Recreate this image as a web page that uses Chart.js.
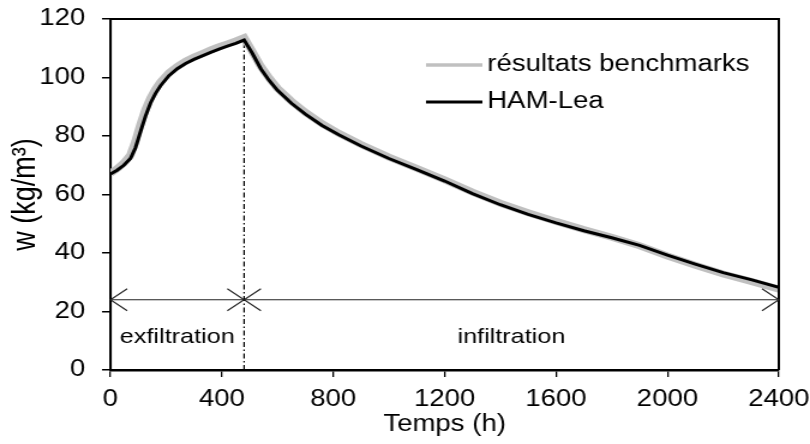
<!DOCTYPE html>
<html>
<head>
<meta charset="utf-8">
<script src="https://cdn.jsdelivr.net/npm/chart.js@4"></script>
<style>
  html, body { margin: 0; padding: 0; background: #fff; }
  #wrap { width: 810px; height: 444px; }
  /* le canevas est étiré horizontalement à l'affichage */
  #wChart { display: block; }
</style>
</head>
<body>
<div id="wrap"><canvas id="wChart" width="675" height="444" style="width:810px;height:444px"></canvas></div>
<script>
/* Teneur en eau w (kg/m3) au cours du temps */
const times = [0, 24, 48, 72, 90, 108, 126, 144, 162, 180, 210, 240, 270, 300, 330, 360, 390, 420, 450, 480,
    510, 540, 570, 600, 650, 700, 760, 820, 900, 1000, 1100, 1200, 1300, 1400, 1500, 1600, 1700, 1800, 1900, 2000,
    2100, 2200, 2300, 2400];
const hamLea = [67.0, 68.3, 70.0, 72.3, 76.0, 81.5, 86.8, 91.3, 94.6, 97.2, 100.6, 103.0, 104.8, 106.2, 107.4, 108.6, 109.7, 110.7, 111.7, 112.8,
    108.2, 103.0, 99.0, 95.6, 91.2, 87.5, 83.6, 80.4, 76.6, 72.3, 68.5, 64.6, 60.3, 56.5, 53.2, 50.3, 47.6, 45.2, 42.6, 39.3,
    36.2, 33.3, 30.9, 28.3];
const benchmarks = [67.2, 68.8, 70.8, 73.5, 78.2, 84.0, 89.0, 93.0, 96.0, 98.5, 101.6, 103.8, 105.6, 107.0, 108.2, 109.4, 110.5, 111.5, 112.5, 113.6,
    108.8, 103.8, 99.8, 96.3, 91.9, 88.1, 84.2, 80.9, 77.1, 72.8, 68.9, 65.0, 60.8, 57.0, 53.8, 50.8, 48.0, 45.4, 42.5, 39.0,
    35.8, 32.8, 30.3, 27.6];

const seriesNames = ['résultats benchmarks', 'HAM-Lea'];
const phaseBounds = [0, 480, 2400];
const phaseNames = ['exfiltration', 'infiltration'];
const arrowLevel = 24;
const phaseLabelLevel = 11.3;

const FONT = 'Liberation Sans, Arial, sans-serif';

const pairs = (xs, ys) => xs.map((x, i) => ({ x: x, y: ys[i] }));

// cadre complet, flèches des phases, libellés et légende
const decor = {
    id: 'decor',
    afterDatasetsDraw(chart) {
        const { ctx, chartArea: a, scales: { x, y } } = chart;
        ctx.save();

        ctx.strokeStyle = '#000';
        ctx.lineWidth = 2;
        ctx.beginPath();
        ctx.moveTo(a.left, a.top);
        ctx.lineTo(a.right, a.top);
        ctx.lineTo(a.right, a.bottom);
        ctx.stroke();

        // flèches doubles pour chaque phase
        const ay = y.getPixelForValue(arrowLevel);
        const head = (tipX, dir) => {
            ctx.beginPath();
            ctx.moveTo(tipX - dir * 14, ay - 11);
            ctx.lineTo(tipX, ay);
            ctx.lineTo(tipX - dir * 14, ay + 11);
            ctx.stroke();
        };
        ctx.strokeStyle = '#222';
        ctx.lineWidth = 1.1;
        for (let i = 0; i < phaseNames.length; i++) {
            const x0 = x.getPixelForValue(phaseBounds[i]);
            const x1 = x.getPixelForValue(phaseBounds[i + 1]);
            ctx.beginPath();
            ctx.moveTo(x0, ay);
            ctx.lineTo(x1, ay);
            ctx.stroke();
            head(x0, -1);
            head(x1, 1);
        }

        ctx.fillStyle = '#000';
        ctx.font = '21px ' + FONT;
        ctx.textAlign = 'center';
        ctx.textBaseline = 'middle';
        const ly = y.getPixelForValue(phaseLabelLevel);
        phaseNames.forEach((name, i) => {
            const cx = x.getPixelForValue((phaseBounds[i] + phaseBounds[i + 1]) / 2);
            ctx.fillText(name, cx, ly);
        });

        // légende
        const legend = [
            { label: seriesNames[0], color: '#c0c0c0', width: 3.5, y: 65 },
            { label: seriesNames[1], color: '#000', width: 3, y: 102 }
        ];
        ctx.font = '23px ' + FONT;
        ctx.textAlign = 'left';
        legend.forEach(item => {
            ctx.strokeStyle = item.color;
            ctx.lineWidth = item.width;
            ctx.beginPath();
            ctx.moveTo(355, item.y);
            ctx.lineTo(402, item.y);
            ctx.stroke();
            ctx.fillStyle = '#000';
            ctx.fillText(item.label, 406, item.y);
        });
        ctx.restore();
    }
};

const peakIndex = times.indexOf(phaseBounds[1]);

new Chart(document.getElementById('wChart'), {
    type: 'line',
    data: {
        datasets: [
            {
                label: 'limite',
                data: [{ x: phaseBounds[1], y: 0 }, { x: phaseBounds[1], y: hamLea[peakIndex] }],
                borderColor: '#000',
                borderWidth: 1.2,
                borderDash: [5, 2.5, 1.5, 2.5],
                pointRadius: 0,
                order: 3
            },
            {
                label: seriesNames[0],
                data: pairs(times, benchmarks),
                borderColor: '#c0c0c0',
                borderWidth: 7,
                pointRadius: 0,
                tension: 0,
                order: 2
            },
            {
                label: seriesNames[1],
                data: pairs(times, hamLea),
                borderColor: '#000',
                borderWidth: 3,
                pointRadius: 0,
                tension: 0,
                order: 1
            }
        ]
    },
    options: {
        responsive: false,
        animation: false,
        devicePixelRatio: 1,
        layout: { padding: { top: 19, right: 26, left: 0, bottom: 0 } },
        plugins: {
            legend: { display: false },
            tooltip: { enabled: false }
        },
        scales: {
            x: {
                type: 'linear',
                min: 0,
                max: 2400,
                afterFit: scale => {
                    scale.height = 74;
                    scale.paddingLeft = 0;
                    scale.paddingRight = 0;
                },
                ticks: {
                    stepSize: 400,
                    color: '#000',
                    padding: 9,
                    maxRotation: 0,
                    callback: v => String(v),
                    font: { family: FONT, size: 23 }
                },
                grid: { drawOnChartArea: false, tickLength: 7, color: '#000', lineWidth: 1.3 },
                border: { color: '#000', width: 2.5 },
                title: {
                    display: true,
                    text: 'Temps (h)',
                    color: '#000',
                    padding: { top: 0, bottom: 6 },
                    font: { family: FONT, size: 23 }
                }
            },
            y: {
                min: 0,
                max: 120,
                afterFit: scale => {
                    scale.width = 92;
                    scale.paddingTop = 0;
                    scale.paddingBottom = 0;
                },
                ticks: {
                    stepSize: 20,
                    color: '#000',
                    padding: 14,
                    callback: v => String(v),
                    font: { family: FONT, size: 23 }
                },
                grid: { drawOnChartArea: false, tickLength: 7, color: '#000', lineWidth: 1.5 },
                border: { color: '#000', width: 2.1 },
                title: {
                    display: true,
                    text: 'w (kg/m³)',
                    color: '#000',
                    padding: { top: 5, bottom: 0 },
                    font: { family: FONT, size: 27 }
                }
            }
        }
    },
    plugins: [decor]
});
</script>
</body>
</html>
